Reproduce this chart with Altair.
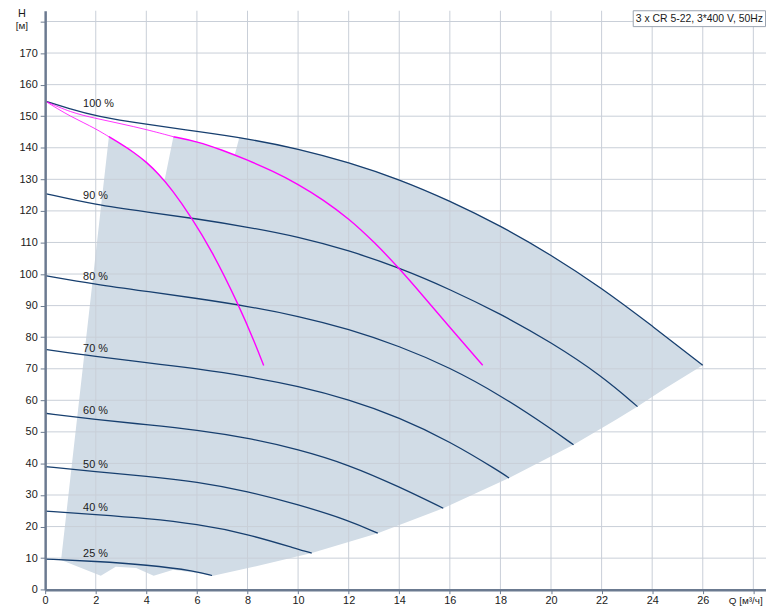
import altair as alt
import pandas as pd

FONT = "Liberation Sans"
NAVY = "#173f6f"
MAGENTA = "#ff00ff"
SHADE = "#d1dce6"
GRID = "#c8ced8"
AXIS = "#6b7a90"

# ---- tick values ----
X_TICKS = list(range(0, 29, 2))
Y_TICKS = list(range(0, 181, 10))

# ---- speed curves (3 pumps) ----
SPEED_NAMES = ["100 %", "90 %", "80 %", "70 %", "60 %", "50 %", "40 %", "25 %"]
Q100 = [0, 1, 2, 4, 6, 8, 10, 12, 14, 16, 18, 20, 22, 24, 26]
H100 = [154.8, 152.3, 150.0, 147.4, 145.2, 142.9, 139.7, 135.4, 130.0, 123.2, 115.3, 106.1, 95.6, 83.6, 71.1]
Q90 = [0, 2, 4, 6, 8, 10, 12, 14, 16, 18, 20, 22, 23.42]
H90 = [125.5, 121.9, 119.7, 117.5, 114.9, 111.8, 107.5, 102.0, 95.2, 87.4, 78.4, 67.8, 58.0]
Q80 = [0, 2, 4, 6, 8, 10, 12, 14, 16, 18, 20, 20.89]
H80 = [99.5, 96.7, 94.5, 92.3, 89.8, 86.7, 82.6, 77.2, 70.4, 61.6, 51.0, 45.9]
Q70 = [0, 2, 4, 6, 8, 10, 12, 14, 16, 18, 18.34]
H70 = [76.1, 73.8, 72.0, 70.0, 67.6, 64.5, 60.3, 54.6, 47.0, 37.3, 35.4]
Q60 = [0, 2, 4, 6, 8, 10, 12, 14, 15.74]
H60 = [55.9, 53.9, 52.3, 50.6, 48.1, 44.5, 39.6, 32.6, 25.8]
Q50 = [0, 2, 4, 6, 8, 10, 12, 13.15]
H50 = [39.0, 37.4, 36.0, 34.2, 31.2, 27.0, 22.0, 17.9]
Q40 = [0, 2, 4, 6, 8, 10, 10.54]
H40 = [24.9, 23.8, 22.6, 20.8, 17.7, 12.8, 11.6]
Q25 = [0, 2, 4, 6, 6.6]
H25 = [9.7, 9.0, 7.9, 5.9, 4.5]

# label positions of the speed curves
LABEL_Q = 1.5
LABEL_H = [153.8, 124.8, 99.0, 76.2, 56.6, 39.6, 26.0, 11.2]

# ---- magenta 100 % curves for 1 and 2 pumps ----
Q_ONE = [0, 0.5, 1, 1.5, 2, 2.52, 3, 3.5, 4, 4.5, 5, 5.79, 6.58, 7.62, 8.34, 8.64]
H_ONE = [154.8, 152.3, 150.0, 148.0, 146.0, 143.5, 141.2, 138.6, 135.5, 131.6, 126.9, 117.9, 107.5, 90.8, 77.3, 71.0]
ONE_ENTRY = 2.52
Q_TWO = [0, 1, 2, 3, 4, 5.07, 6, 7, 8, 9, 10, 11, 12, 13, 14, 15, 16, 17.3]
H_TWO = [154.8, 151.2, 149.3, 147.6, 145.8, 143.5, 142.0, 139.3, 136.1, 132.6, 128.5, 123.5, 117.6, 110.2, 101.8, 92.5, 83.1, 71.1]
TWO_ENTRY = 5.07

# ---- shaded operating range (outline, in drawing order) ----
SHADE_Q = [0.63, 2.52, 3.0, 3.5, 4.0, 4.5, 4.72, 5.07, 6.0, 7.0, 7.49, 7.68, 8, 10, 12, 14, 16, 18, 20, 22, 24, 26,
           24.46, 23.42, 22.6, 20.89, 18.34, 15.74, 13.15, 10.54, 8.55, 6.64, 6.0, 5.07, 4.29, 3.6, 2.79, 2.2]
SHADE_H = [9.4, 143.5, 141.2, 138.6, 135.5, 131.6, 129.6, 143.5, 142.0, 139.3, 137.6, 143.3, 142.9, 139.7, 135.4,
           130.0, 123.2, 115.3, 106.1, 95.6, 83.6, 71.1, 63.5, 58.0, 54.0, 45.9, 35.4, 25.8, 17.9, 11.6, 7.8, 4.4,
           5.3, 6.3, 4.4, 6.9, 7.3, 4.4]

TITLE_BOX = "3 x CR 5-22, 3*400 V, 50Hz"
X_TITLE = "Q [м³/ч]"
Y_TITLE_1 = "H"
Y_TITLE_2 = "[м]"

# ---------------- build tables ----------------
speed_q = [Q100, Q90, Q80, Q70, Q60, Q50, Q40, Q25]
speed_h = [H100, H90, H80, H70, H60, H50, H40, H25]
rows = []
for name, qs, hs in zip(SPEED_NAMES, speed_q, speed_h):
    for q, h in zip(qs, hs):
        rows.append({"curve": name, "Q": q, "H": h})
speed_df = pd.DataFrame(rows)

mag_rows = []
for name, qs, hs, entry in [("one", Q_ONE, H_ONE, ONE_ENTRY), ("two", Q_TWO, H_TWO, TWO_ENTRY)]:
    for q, h in zip(qs, hs):
        if q <= entry:
            mag_rows.append({"curve": name + "_thin", "seg": "thin", "Q": q, "H": h})
        if q >= entry:
            mag_rows.append({"curve": name + "_thick", "seg": "thick", "Q": q, "H": h})
mag_df = pd.DataFrame(mag_rows)

shade_df = pd.DataFrame({"Q": SHADE_Q, "H": SHADE_H, "i": list(range(len(SHADE_Q)))})
label_df = pd.DataFrame({"label": SPEED_NAMES, "Q": [LABEL_Q] * len(SPEED_NAMES), "H": LABEL_H})
xgrid_df = pd.DataFrame({"Q": X_TICKS[1:]})
ygrid_df = pd.DataFrame({"H": Y_TICKS[1:]})
one_df = pd.DataFrame({"a": [0]})

xscale = alt.Scale(domain=[0, 28.5], nice=False, zero=False)
yscale = alt.Scale(domain=[0, 183.4], nice=False, zero=False)

xaxis = alt.Axis(values=X_TICKS, labelExpr="datum.value == 28 ? '' : datum.label", grid=False, title=None,
                 tickSize=4, tickColor=AXIS, domainColor=AXIS, domainWidth=2.5, labelPadding=1,
                 labelFont=FONT, labelFontSize=11, labelColor="#1a1a1a", labelFlush=False, zindex=1)
yaxis = alt.Axis(values=Y_TICKS, labelExpr="datum.value == 180 ? '' : datum.label", grid=False, title=None,
                 tickSize=5, tickColor=AXIS, domainColor=AXIS, domainWidth=2.5, labelPadding=3,
                 labelFont=FONT, labelFontSize=11, labelColor="#1a1a1a", labelFlush=False, zindex=1)


def X(field="Q"):
    return alt.X(f"{field}:Q", scale=xscale, axis=xaxis)


def Y(field="H"):
    return alt.Y(f"{field}:Q", scale=yscale, axis=yaxis)


shade = alt.Chart(shade_df).mark_line(filled=True, fill=SHADE, strokeWidth=0).encode(
    x=X(), y=Y(), order="i:Q")

xgrid = alt.Chart(xgrid_df).mark_rule(color=GRID, strokeWidth=1).encode(x=X())
ygrid = alt.Chart(ygrid_df).mark_rule(color=GRID, strokeWidth=1).encode(y=Y())

speed = alt.Chart(speed_df).mark_line(color=NAVY, strokeWidth=1.3, interpolate="basis").encode(
    x=X(), y=Y(), detail="curve:N")

mag = alt.Chart(mag_df).mark_line(color=MAGENTA, interpolate="basis").encode(
    x=X(), y=Y(), detail="curve:N",
    strokeWidth=alt.StrokeWidth("seg:N", scale=alt.Scale(domain=["thin", "thick"], range=[0.8, 1.4]),
                                legend=None))

labels = alt.Chart(label_df).mark_text(align="left", baseline="middle", font=FONT, fontSize=11,
                                       color="#1a1a1a").encode(x=X(), y=Y(), text="label:N")

box = alt.Chart(one_df).mark_rect(fill="white", stroke="#9aa3b0", strokeWidth=1).encode(
    x=alt.value(593.5), x2=alt.value(727), y=alt.value(0), y2=alt.value(16))
box_text = alt.Chart(one_df).mark_text(align="right", baseline="middle", font=FONT, fontSize=10.5,
                                       color="#1a1a1a").encode(
    x=alt.value(724.5), y=alt.value(8.5), text=alt.value(TITLE_BOX))

ytitle1 = alt.Chart(one_df).mark_text(align="center", baseline="middle", font=FONT, fontSize=11,
                                      color="#1a1a1a").encode(
    x=alt.value(-23.5), y=alt.value(3), text=alt.value(Y_TITLE_1))
ytitle2 = alt.Chart(one_df).mark_text(align="center", baseline="middle", font=FONT, fontSize=10,
                                      color="#1a1a1a").encode(
    x=alt.value(-23.5), y=alt.value(15), text=alt.value(Y_TITLE_2))
xtitle = alt.Chart(one_df).mark_text(align="center", baseline="middle", font=FONT, fontSize=10,
                                     color="#1a1a1a").encode(
    x=alt.value(707), y=alt.value(595.5), text=alt.value(X_TITLE))

chart = alt.layer(
    shade, xgrid, ygrid, speed, mag, labels, box, box_text, ytitle1, ytitle2, xtitle
).properties(
    width=727.5, height=584.3,
    autosize=alt.AutoSizeParams(type="none"),
    padding={"left": 37.5, "top": 0, "right": 0, "bottom": 19},
    background="white",
).configure_view(stroke=None)

chart.save("out.html", embed_options={"renderer": "svg", "actions": False})
